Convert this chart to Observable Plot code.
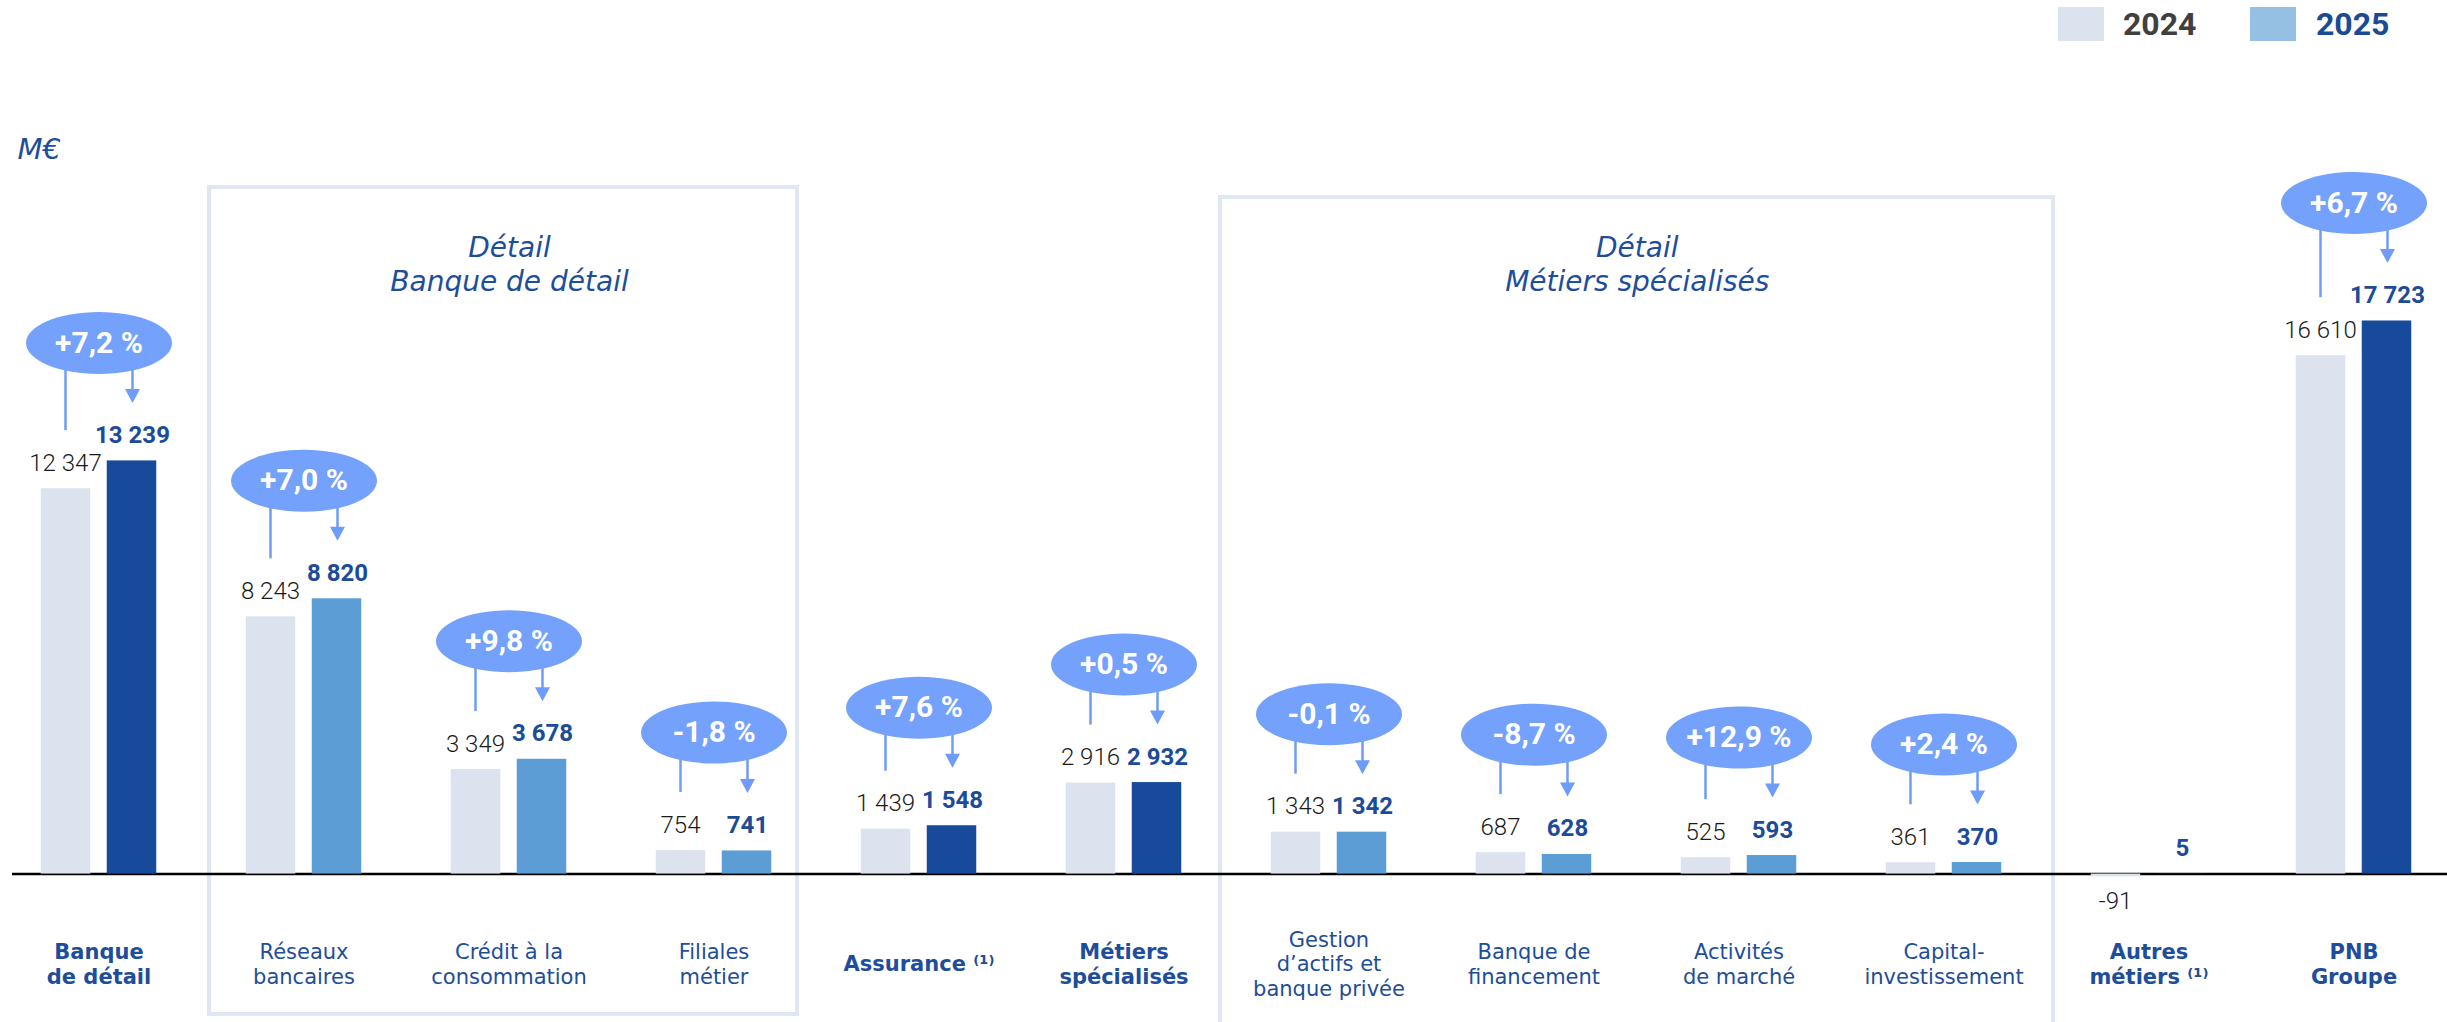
<!DOCTYPE html>
<html lang="fr">
<head>
<meta charset="utf-8">
<script src="https://cdn.jsdelivr.net/npm/d3@7"></script>
<script src="https://cdn.jsdelivr.net/npm/@observablehq/plot@0.6"></script>
<style>
  html, body { margin: 0; padding: 0; background: #fff; overflow: hidden; }
  #legend { position: relative; height: 50px; width: 2447px; font-family: Roboto, "Noto Sans", sans-serif; }
  #legend .sw { position: absolute; top: 7px; width: 46px; height: 34px; }
  #legend .lb { position: absolute; top: 4px; font-size: 32px; font-weight: 700; line-height: 40px; }
  #chart svg { display: block; }
</style>
</head>
<body>
<div id="legend"></div>
<div id="chart"></div>
<script>
// ---------- data ----------
const categories = [
  "Banque de détail", "Réseaux bancaires", "Crédit à la consommation", "Filiales métier",
  "Assurance", "Métiers spécialisés", "Gestion d’actifs et banque privée",
  "Banque de financement", "Activités de marché", "Capital-investissement",
  "Autres métiers", "PNB Groupe"
];
const tickLabels = [
  "Banque\nde détail", "Réseaux\nbancaires", "Crédit à la\nconsommation", "Filiales\nmétier",
  "Assurance ⁽¹⁾", "Métiers\nspécialisés", "Gestion\nd’actifs et\nbanque privée",
  "Banque de\nfinancement", "Activités\nde marché", "Capital-\ninvestissement",
  "Autres\nmétiers ⁽¹⁾", "PNB\nGroupe"
];
const levels = ["pôle", "détail", "détail", "détail", "pôle", "pôle", "détail", "détail", "détail", "détail", "pôle", "total"];
const years = ["2024", "2025"];
const values2024 = [12347, 8243, 3349, 754, 1439, 2916, 1343, 687, 525, 361, -91, 16610];
const values2025 = [13239, 8820, 3678, 741, 1548, 2932, 1342, 628, 593, 370, 5, 17723];
const changes = ["+7,2 %", "+7,0 %", "+9,8 %", "-1,8 %", "+7,6 %", "+0,5 %", "-0,1 %", "-8,7 %", "+12,9 %", "+2,4 %", null, "+6,7 %"];
const unitLabel = "M€";
const detailGroups = [
  {title: "Détail\nBanque de détail", from: "Réseaux bancaires", to: "Filiales métier"},
  {title: "Détail\nMétiers spécialisés", from: "Gestion d’actifs et banque privée", to: "Capital-investissement"}
];

// ---------- styles ----------
const C = {
  bar2024: "#dde3ee",
  barDark: "#174a9b",
  barMid: "#5b9dd4",
  legend2025: "#95bfe3",
  bubble: "#73a1fb",
  connector: "#6e9cf8",
  labelBlue: "#1d4d9b",
  value2025: "#1b4b99",
  value2024: "#1a1a1a",
  box: "#dfe7f2",
  legendText2024: "#404040",
  legendText2025: "#1a4b94"
};
const W = 2447, H = 972;
const xRange = [-6.75, 2459.25];
const step = (xRange[1] - xRange[0]) / categories.length;
const half = 33.5;           // offset of each bar centre from the category centre
const bubbleLift = 118;      // bubble centre above the tallest bar
const catFont = "'DejaVu Sans', Verdana, sans-serif";
const numFont = "Roboto, 'Noto Sans', sans-serif";

// ---------- table ----------
const rows = categories.map((c, i) => ({
  category: c,
  label: tickLabels[i],
  level: levels[i],
  v2024: values2024[i],
  v2025: values2025[i],
  change: changes[i]
}));
const withChange = rows.filter(d => d.change != null);
const peak = d => Math.max(d.v2024, d.v2025);

const fmt = d3.formatLocale({decimal: ",", thousands: " ", grouping: [3], currency: ["", ""], minus: "-"}).format(",d");

// custom symbols
const ellipse = {draw(ctx) {
  const rx = 73, ry = 31, k = 0.5523;
  ctx.moveTo(rx, 0);
  ctx.bezierCurveTo(rx, k * ry, k * rx, ry, 0, ry);
  ctx.bezierCurveTo(-k * rx, ry, -rx, k * ry, -rx, 0);
  ctx.bezierCurveTo(-rx, -k * ry, -k * rx, -ry, 0, -ry);
  ctx.bezierCurveTo(k * rx, -ry, rx, -k * ry, rx, 0);
  ctx.closePath();
}};
const arrowHead = {draw(ctx) {
  ctx.moveTo(-7.5, -7);
  ctx.lineTo(7.5, -7);
  ctx.lineTo(0, 7);
  ctx.closePath();
}};

// ---------- legend (HTML, above the SVG) ----------
const legend = document.getElementById("legend");
const legendItems = [
  {year: years[0], swatch: C.bar2024, text: C.legendText2024, sx: 2058, tx: 2123},
  {year: years[1], swatch: C.legend2025, text: C.legendText2025, sx: 2250, tx: 2316}
];
for (const it of legendItems) {
  const sw = document.createElement("span");
  sw.className = "sw"; sw.style.left = it.sx + "px"; sw.style.background = it.swatch;
  const lb = document.createElement("span");
  lb.className = "lb"; lb.style.left = it.tx + "px"; lb.style.color = it.text;
  lb.textContent = it.year;
  legend.append(sw, lb);
}

// ---------- chart ----------
const chart = Plot.plot({
  width: W,
  height: H,
  marginTop: 137,
  marginBottom: 8,
  marginLeft: 0,
  marginRight: 0,
  style: {fontFamily: numFont, background: "white", overflow: "hidden"},
  x: {type: "band", domain: categories, range: xRange, padding: 0, axis: null},
  y: {domain: [-4500, 22000], axis: null},
  marks: [
    // detail frames
    Plot.rect([detailGroups[0]], {x1: "from", x2: "to", fill: "none", stroke: C.box, strokeWidth: 4,
      insetLeft: 8, insetRight: 19, insetTop: 0, insetBottom: 0}),
    Plot.rect([detailGroups[1]], {x1: "from", x2: "to", fill: "none", stroke: C.box, strokeWidth: 4,
      insetLeft: -6, insetRight: -7, insetTop: 10, insetBottom: -60}),
    Plot.text([detailGroups[0]], {x: "from", text: "title", frameAnchor: "top", dx: step, dy: 45,
      lineAnchor: "top", fontSize: 28, fontStyle: "italic", lineHeight: 34 / 28, fill: C.labelBlue, fontFamily: catFont}),
    Plot.text([detailGroups[1]], {x: "from", text: "title", frameAnchor: "top", dx: 1.5 * step, dy: 45,
      lineAnchor: "top", fontSize: 28, fontStyle: "italic", lineHeight: 34 / 28, fill: C.labelBlue, fontFamily: catFont}),

    // unit
    Plot.text([unitLabel], {frameAnchor: "top-left", dx: 17, dy: -29, lineAnchor: "bottom", textAnchor: "start",
      fontSize: 29, fontStyle: "italic", fill: C.labelBlue, fontFamily: catFont}),

    // baseline
    Plot.ruleY([0], {stroke: "#000", strokeWidth: 2.5, insetLeft: 12}),

    // bars
    Plot.barY(rows, {x: "category", y: "v2024", fill: C.bar2024, insetLeft: 102.75 - 58, insetRight: 102.75 + 8}),
    Plot.barY(rows, {x: "category", y: "v2025", fill: d => d.level === "détail" ? C.barMid : C.barDark,
      insetLeft: 102.75 + 8, insetRight: 102.75 - 58}),

    // connectors: bubble -> 2024 label, bubble -> 2025 label (arrow)
    Plot.ruleX(withChange, {x: "category", y1: peak, y2: "v2024", dx: -half, insetTop: -bubbleLift, insetBottom: 58,
      stroke: C.connector, strokeWidth: 2.5}),
    Plot.ruleX(withChange, {x: "category", y1: peak, y2: "v2025", dx: half, insetTop: -bubbleLift, insetBottom: 70,
      stroke: C.connector, strokeWidth: 2.5}),
    Plot.dot(withChange, {x: "category", y: "v2025", dx: half, dy: -65, symbol: arrowHead, fill: C.connector, stroke: "none"}),

    // change bubbles
    Plot.dot(withChange, {x: "category", y: peak, dy: -bubbleLift, symbol: ellipse, fill: C.bubble, stroke: "none"}),
    Plot.text(withChange, {x: "category", y: peak, dy: -bubbleLift, text: "change", fill: "white",
      fontSize: 30, fontWeight: 700, lineAnchor: "middle", fontFamily: numFont}),

    // value labels
    Plot.text(rows.filter(d => d.v2024 >= 0), {x: "category", y: "v2024", dx: -half, dy: -18, lineAnchor: "bottom",
      text: d => fmt(d.v2024), fill: C.value2024, fontSize: 24, fontWeight: 300}),
    Plot.text(rows.filter(d => d.v2024 < 0), {x: "category", y: "v2024", dx: -half, dy: 15, lineAnchor: "top",
      text: d => fmt(d.v2024), fill: C.value2024, fontSize: 24, fontWeight: 300}),
    Plot.text(rows, {x: "category", y: "v2025", dx: half, dy: -18, lineAnchor: "bottom",
      text: d => fmt(d.v2025), fill: C.value2025, fontSize: 24, fontWeight: 700}),

    // category labels
    Plot.text(rows.filter(d => d.level !== "détail"), {x: "category", text: "label", frameAnchor: "bottom", dy: -51,
      lineAnchor: "middle", lineHeight: 1.18, fontSize: 21, fontWeight: 700, fill: C.labelBlue, fontFamily: catFont}),
    Plot.text(rows.filter(d => d.level === "détail"), {x: "category", text: "label", frameAnchor: "bottom", dy: -51,
      lineAnchor: "middle", lineHeight: 1.18, fontSize: 21, fontWeight: 400, fill: C.labelBlue, fontFamily: catFont})
  ]
});
document.getElementById("chart").append(chart);
</script>
</body>
</html>
